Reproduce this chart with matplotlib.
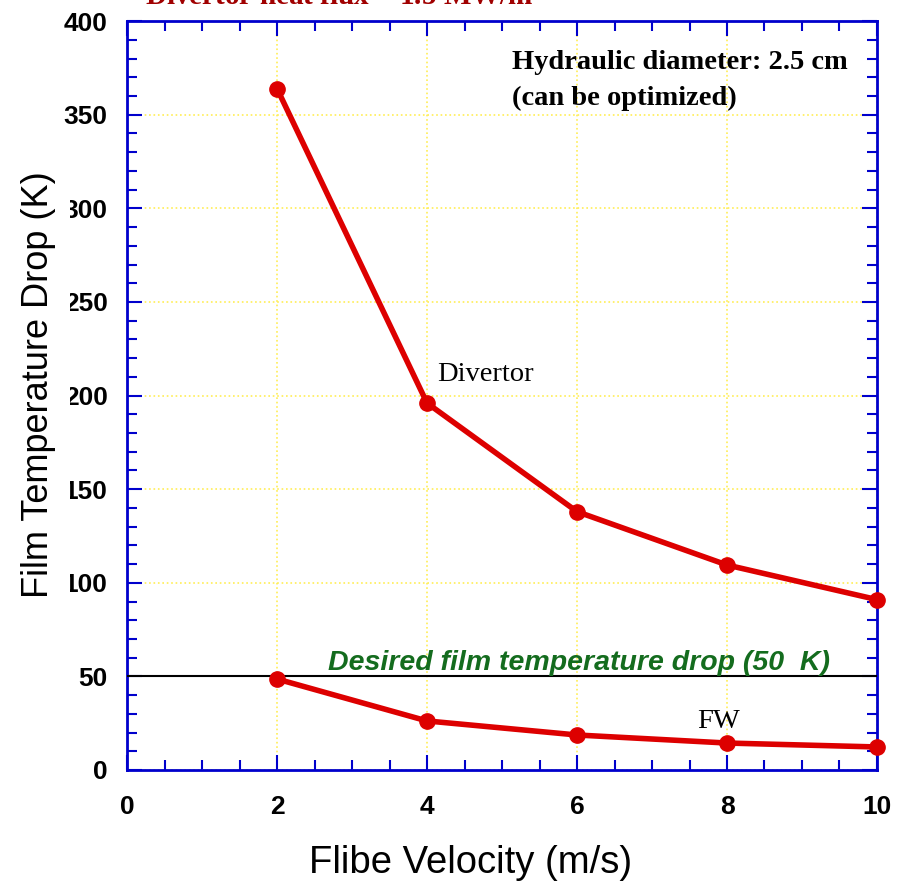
import matplotlib.pyplot as plt
from matplotlib.ticker import MultipleLocator

velocity = [2, 4, 6, 8, 10]
divertor_drop = [364, 196, 138, 109.5, 91]
fw_drop = [48.6, 26.2, 18.7, 14.4, 12.3]
desired_drop = 50

plt.rcParams['font.family'] = ['Liberation Sans', 'DejaVu Sans']

fig = plt.figure(figsize=(8.97, 8.81), dpi=100)
ax = fig.add_axes([0.1416, 0.126, 0.8361, 0.850])

red = '#dd0000'
ax.plot(velocity, divertor_drop, color=red, lw=4, marker='o', ms=11,
        zorder=4, clip_on=False)
ax.plot(velocity, fw_drop, color=red, lw=4, marker='o', ms=11,
        zorder=4, clip_on=False)
ax.axhline(desired_drop, color='black', lw=1.5, zorder=3)

ax.set_xlim(0, 10)
ax.set_ylim(0, 400)
ax.xaxis.set_major_locator(MultipleLocator(2))
ax.xaxis.set_minor_locator(MultipleLocator(0.5))
ax.yaxis.set_major_locator(MultipleLocator(50))
ax.yaxis.set_minor_locator(MultipleLocator(10))

ax.grid(True, which='major', color='#ffee55', ls=':', lw=1.2, zorder=1)

for s in ax.spines.values():
    s.set_color('#0000cc')
    s.set_linewidth(2)
ax.tick_params(which='both', direction='in', top=True, right=True,
               color='#0000cc', width=1.5)
ax.tick_params(which='major', length=11)
ax.tick_params(which='minor', length=7)
ax.tick_params(axis='x', which='major', pad=18, labelsize=19)
ax.tick_params(axis='y', which='major', pad=14, labelsize=19)
for lab in ax.get_xticklabels() + ax.get_yticklabels():
    lab.set_fontweight('bold')

serif = ['Liberation Serif', 'DejaVu Serif']
ax.text(5.13, 374.4, 'Hydraulic diameter: 2.5 cm', family=serif,
        fontsize=20.5, fontweight='bold', va='baseline')
ax.text(5.13, 355.1, '(can be optimized)', family=serif,
        fontsize=20.5, fontweight='bold', va='baseline')
ax.text(4.13, 207.7, 'Divertor', family=serif, fontsize=20.5, va='baseline')
ax.text(7.6, 22.4, 'FW', family=serif, fontsize=20.5, va='baseline')
ax.text(2.68, 53.4, 'Desired film temperature drop (50  K)', color='#146c1e',
        fontsize=20.5, fontweight='bold', style='italic', va='baseline')

fig.text(0.162, 1 - 5 / 881, 'Divertor heat flux = 1.5 MW/m$^2$', family=serif,
         color='#a00000', fontsize=21, fontweight='bold', va='baseline')

fig.text(0.043, 0.563, 'Film Temperature Drop (K)', rotation=90, fontsize=26,
         ha='center', va='center',
         bbox=dict(facecolor='white', edgecolor='none', pad=10))
fig.text(0.525, 1 - 873 / 881, 'Flibe Velocity (m/s)', fontsize=27.5,
         ha='center', va='baseline')

fig.savefig('out.png', dpi=100)
